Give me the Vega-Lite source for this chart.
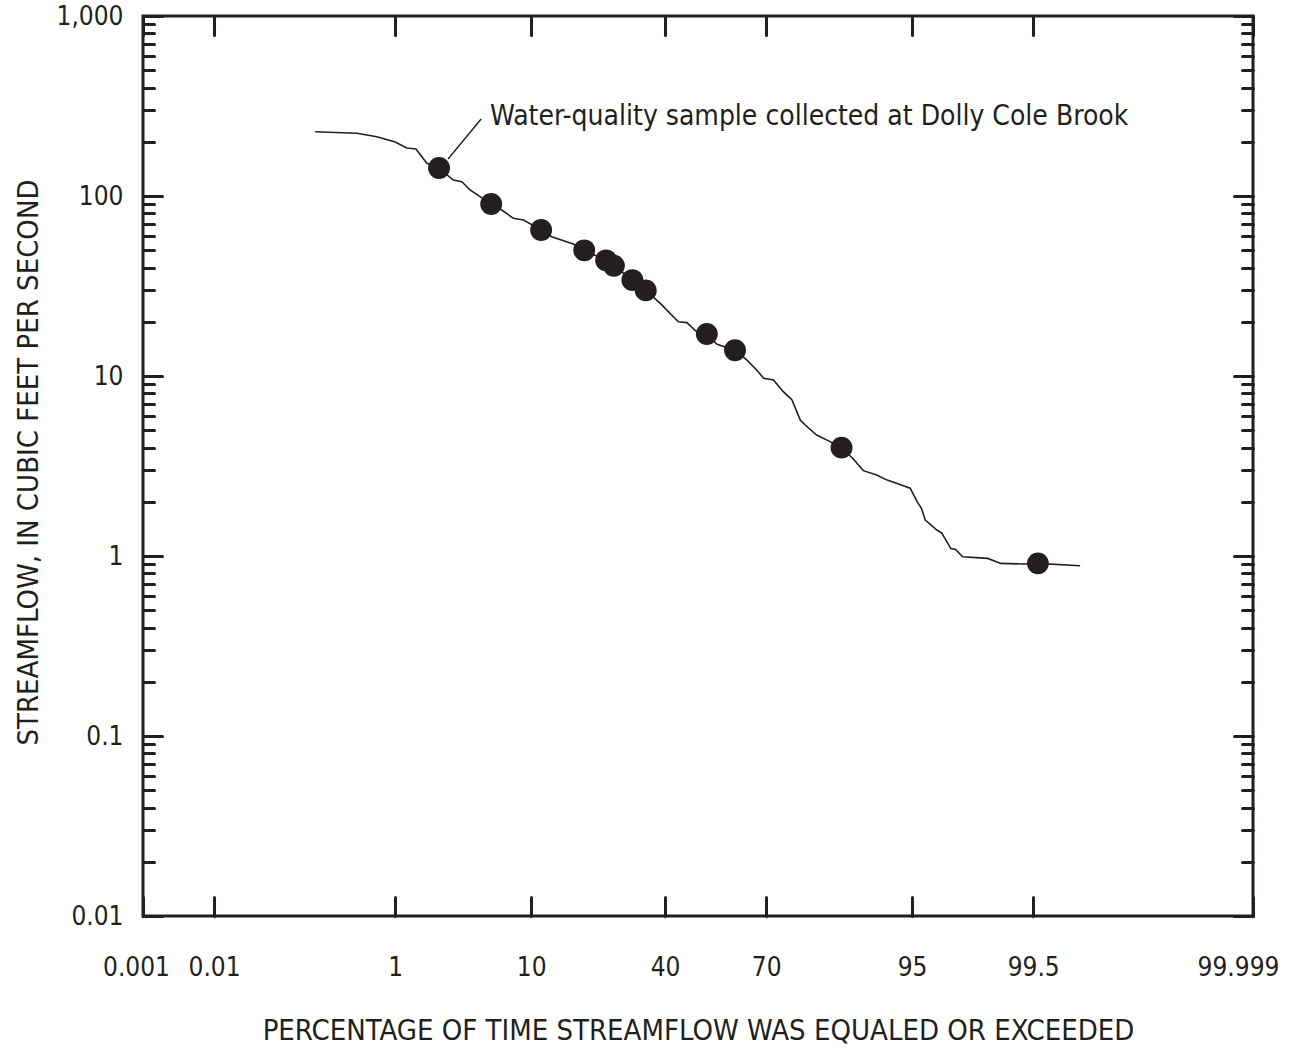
{
  "$schema": "https://vega.github.io/schema/vega-lite/v6.json",
  "width": 1110,
  "height": 900,
  "autosize": {"type": "none"},
  "padding": {"left": 143, "top": 16, "right": 39, "bottom": 133},
  "background": "white",
  "config": {
    "font": "Liberation Sans Narrow, DejaVu Sans Condensed, sans-serif",
    "view": {"stroke": "#231f20", "strokeWidth": 3},
    "axis": {
      "grid": false,
      "domain": false,
      "tickColor": "#231f20",
      "tickWidth": 3,
      "tickCap": "round",
      "labelColor": "#231f20",
      "labelFont": "Liberation Sans Narrow, DejaVu Sans Condensed, sans-serif",
      "labelFontSize": 26,
      "titleColor": "#231f20",
      "titleFont": "Liberation Sans Narrow, DejaVu Sans Condensed, sans-serif",
      "titleFontSize": 29,
      "titleFontWeight": "normal"
    }
  },
  "datasets": {
    "curve": [
      {"pct": 0.163, "flow": 227.6},
      {"pct": 0.437, "flow": 223},
      {"pct": 0.68, "flow": 213.5},
      {"pct": 1.0, "flow": 199.5},
      {"pct": 1.26, "flow": 184.8},
      {"pct": 1.51, "flow": 182.4},
      {"pct": 1.86, "flow": 152},
      {"pct": 2.33, "flow": 143},
      {"pct": 3.0, "flow": 122.7},
      {"pct": 3.48, "flow": 120},
      {"pct": 3.99, "flow": 108},
      {"pct": 4.7, "flow": 99.1},
      {"pct": 5.6, "flow": 90.2},
      {"pct": 6.58, "flow": 83.6},
      {"pct": 7.8, "flow": 75.2},
      {"pct": 9.0, "flow": 73.6},
      {"pct": 11.4, "flow": 64.7},
      {"pct": 13.05, "flow": 59.4},
      {"pct": 16.9, "flow": 54.1},
      {"pct": 19.1, "flow": 49.9},
      {"pct": 24.0, "flow": 43.9},
      {"pct": 25.9, "flow": 41.0},
      {"pct": 30.7, "flow": 34.1},
      {"pct": 34.4, "flow": 29.9},
      {"pct": 38.6, "flow": 25.3},
      {"pct": 44.0, "flow": 20.0},
      {"pct": 46.6, "flow": 19.8},
      {"pct": 49.6, "flow": 17.6},
      {"pct": 52.7, "flow": 17.1},
      {"pct": 55.8, "flow": 15.0},
      {"pct": 61.2, "flow": 13.9},
      {"pct": 64.6, "flow": 12.3},
      {"pct": 67.4, "flow": 10.8},
      {"pct": 69.3, "flow": 9.7},
      {"pct": 71.9, "flow": 9.5},
      {"pct": 74.4, "flow": 8.18},
      {"pct": 76.5, "flow": 7.36},
      {"pct": 78.4, "flow": 5.7},
      {"pct": 79.5, "flow": 5.34},
      {"pct": 81.9, "flow": 4.7},
      {"pct": 84.5, "flow": 4.32},
      {"pct": 86.5, "flow": 4.0},
      {"pct": 88.4, "flow": 3.45},
      {"pct": 89.8, "flow": 2.98},
      {"pct": 91.5, "flow": 2.82},
      {"pct": 92.7, "flow": 2.64},
      {"pct": 93.7, "flow": 2.53},
      {"pct": 94.85, "flow": 2.38},
      {"pct": 95.4, "flow": 2.0},
      {"pct": 95.7, "flow": 1.84},
      {"pct": 95.96, "flow": 1.585},
      {"pct": 96.7, "flow": 1.39},
      {"pct": 96.95, "flow": 1.34},
      {"pct": 97.4, "flow": 1.1},
      {"pct": 97.6, "flow": 1.09},
      {"pct": 97.9, "flow": 0.99},
      {"pct": 98.7, "flow": 0.97},
      {"pct": 99.0, "flow": 0.91},
      {"pct": 99.38, "flow": 0.903},
      {"pct": 99.55, "flow": 0.91},
      {"pct": 99.834, "flow": 0.883}
    ],
    "samples": [
      {"pct": 2.33, "flow": 143},
      {"pct": 5.6, "flow": 90.2},
      {"pct": 11.4, "flow": 64.7},
      {"pct": 19.1, "flow": 49.9},
      {"pct": 24.0, "flow": 43.9},
      {"pct": 25.9, "flow": 41.0},
      {"pct": 30.7, "flow": 34.1},
      {"pct": 34.4, "flow": 29.9},
      {"pct": 52.7, "flow": 17.1},
      {"pct": 61.2, "flow": 13.9},
      {"pct": 86.5, "flow": 4.0},
      {"pct": 99.55, "flow": 0.91}
    ],
    "note": [
      {"pct": 5.5, "flow": 275, "label": "Water-quality sample collected at Dolly Cole Brook"}
    ],
    "leader": [
      {"pct": 2.74, "flow": 160.6, "pct2": 4.78, "flow2": 268}
    ]
  },
  "resolve": {"axis": {"x": "independent", "y": "independent"}},
  "layer": [
    {
      "data": {"name": "curve"},
      "transform": [{"calculate": "quantileNormal(datum.pct / 100)", "as": "z"}],
      "mark": {"type": "line", "color": "#231f20", "strokeWidth": 1.6, "interpolate": "linear"},
      "encoding": {
        "x": {
          "field": "z", "type": "quantitative",
          "scale": {"domain": [-4.2649, 4.2649], "nice": false, "zero": false},
          "axis": {
            "orient": "bottom",
            "title": "PERCENTAGE OF TIME STREAMFLOW WAS EQUALED OR EXCEEDED",
            "values": [-4.2649, -3.719, -2.3263, -1.2816, -0.2533, 0.5244, 1.6449, 2.5758, 4.2649],
            "labelExpr": "datum.value < -4 ? '0.001' : datum.value < -3 ? '0.01' : datum.value < -2 ? '1' : datum.value < -1 ? '10' : datum.value < 0 ? '40' : datum.value < 1 ? '70' : datum.value < 2 ? '95' : datum.value < 3 ? '99.5' : '99.999'",
            "tickSize": -19,
            "labelPadding": 78,
            "labelBaseline": "alphabetic",
            "labelFlush": false,
            "labelOverlap": false,
            "labelOffset": {"condition": [{"test": "datum.value > 4", "value": -15}, {"test": "datum.value < -4", "value": -7}], "value": 0},
            "titleY": 123,
            "titleBaseline": "alphabetic"
          }
        },
        "y": {
          "field": "flow", "type": "quantitative",
          "scale": {"type": "log", "domain": [0.01, 1000], "nice": false},
          "axis": {
            "orient": "left",
            "title": "STREAMFLOW, IN CUBIC FEET PER SECOND",
            "values": [0.01, 0.1, 1, 10, 100, 1000],
            "format": ",",
            "tickSize": -19,
            "labelPadding": 39,
            "labelOverlap": false,
            "labelFlush": false,
            "titleX": -106,
            "titleY": 446,
            "titleAngle": -90,
            "titleAlign": "center",
            "titleBaseline": "alphabetic"
          }
        }
      }
    },
    {
      "data": {"name": "samples"},
      "transform": [{"calculate": "quantileNormal(datum.pct / 100)", "as": "z"}],
      "mark": {"type": "circle", "color": "#231f20", "opacity": 1, "size": 480},
      "encoding": {
        "x": {
          "field": "z", "type": "quantitative",
          "scale": {"domain": [-4.2649, 4.2649], "nice": false, "zero": false},
          "axis": {
            "orient": "top",
            "title": null,
            "labels": false,
            "values": [-4.2649, -3.719, -2.3263, -1.2816, -0.2533, 0.5244, 1.6449, 2.5758, 4.2649],
            "tickSize": -19
          }
        },
        "y": {
          "field": "flow", "type": "quantitative",
          "scale": {"type": "log", "domain": [0.01, 1000], "nice": false},
          "axis": {
            "orient": "right",
            "title": null,
            "labels": false,
            "values": [0.01, 0.1, 1, 10, 100, 1000],
            "tickSize": -19
          }
        }
      }
    },
    {
      "data": {"name": "note"},
      "transform": [{"calculate": "quantileNormal(datum.pct / 100)", "as": "z"}],
      "mark": {"type": "text", "align": "left", "baseline": "middle", "fontSize": 28, "color": "#231f20", "font": "Liberation Sans Narrow, DejaVu Sans Condensed, sans-serif"},
      "encoding": {
        "x": {
          "field": "z", "type": "quantitative",
          "scale": {"domain": [-4.2649, 4.2649], "nice": false, "zero": false},
          "axis": null
        },
        "y": {
          "field": "flow", "type": "quantitative",
          "scale": {"type": "log", "domain": [0.01, 1000], "nice": false},
          "axis": {
            "orient": "left",
            "title": null,
            "labels": false,
            "values": [0.02, 0.03, 0.04, 0.05, 0.06, 0.07, 0.08, 0.09, 0.2, 0.3, 0.4, 0.5, 0.6, 0.7, 0.8, 0.9, 2, 3, 4, 5, 6, 7, 8, 9, 20, 30, 40, 50, 60, 70, 80, 90, 200, 300, 400, 500, 600, 700, 800, 900],
            "tickSize": -11
          }
        },
        "text": {"field": "label"}
      }
    },
    {
      "data": {"name": "leader"},
      "transform": [
        {"calculate": "quantileNormal(datum.pct / 100)", "as": "z"},
        {"calculate": "quantileNormal(datum.pct2 / 100)", "as": "z2"}
      ],
      "mark": {"type": "rule", "color": "#231f20", "strokeWidth": 1.4},
      "encoding": {
        "x": {
          "field": "z", "type": "quantitative",
          "scale": {"domain": [-4.2649, 4.2649], "nice": false, "zero": false},
          "axis": null
        },
        "x2": {"field": "z2"},
        "y": {
          "field": "flow", "type": "quantitative",
          "scale": {"type": "log", "domain": [0.01, 1000], "nice": false},
          "axis": {
            "orient": "right",
            "title": null,
            "labels": false,
            "values": [0.02, 0.03, 0.04, 0.05, 0.06, 0.07, 0.08, 0.09, 0.2, 0.3, 0.4, 0.5, 0.6, 0.7, 0.8, 0.9, 2, 3, 4, 5, 6, 7, 8, 9, 20, 30, 40, 50, 60, 70, 80, 90, 200, 300, 400, 500, 600, 700, 800, 900],
            "tickSize": -11
          }
        },
        "y2": {"field": "flow2"}
      }
    }
  ]
}
